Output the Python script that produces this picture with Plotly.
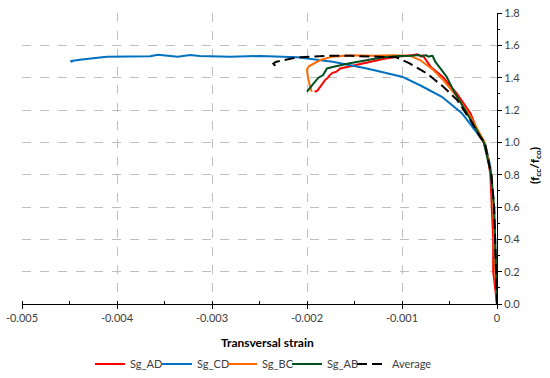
import plotly.graph_objects as go

# Sg_AD (red)
ad_x = [0, -0.00004, -0.00004, -0.000055, -0.00007, -0.00010, -0.00014, -0.00018, -0.00028,
        -0.00042, -0.00057, -0.00070, -0.00076, -0.00078, -0.00080, -0.00084, -0.00088,
        -0.00095, -0.00106, -0.0012, -0.00137, -0.00155, -0.00165, -0.00169, -0.00173,
        -0.00176, -0.00178, -0.00181, -0.00184, -0.00186, -0.00189, -0.00192]
ad_y = [0, 0.2, 0.4, 0.6, 0.8, 0.92, 1.0, 1.035, 1.18,
        1.30, 1.405, 1.468, 1.525, 1.538, 1.53, 1.545, 1.54,
        1.535, 1.53, 1.515, 1.493, 1.472, 1.457, 1.437, 1.43,
        1.416, 1.40, 1.385, 1.36, 1.344, 1.32, 1.313]

# Sg_CD (blue)
cd_x = [0, -0.00001, -0.00002, -0.00004, -0.00007, -0.000126, -0.00023, -0.00037, -0.00058,
        -0.0008, -0.001, -0.00137, -0.00173, -0.0021, -0.00249, -0.00281, -0.00313,
        -0.00323, -0.00336, -0.0035, -0.00357, -0.00365, -0.00387, -0.00411, -0.00439,
        -0.00448, -0.00447]
cd_y = [0, 0.2, 0.4, 0.6, 0.85, 0.994, 1.076, 1.18, 1.282,
        1.35, 1.406, 1.457, 1.499, 1.527, 1.534, 1.529, 1.534,
        1.54, 1.529, 1.538, 1.542, 1.532, 1.532, 1.529, 1.511,
        1.503, 1.494]

# Sg_BC (orange)
bc_x = [0, -0.00002, -0.00003, -0.00004, -0.00006, -0.00013, -0.00028, -0.00042, -0.000565,
        -0.00067, -0.00081, -0.00092, -0.0011, -0.0013, -0.00155, -0.00173, -0.00186,
        -0.00193, -0.00198, -0.002, -0.00199, -0.00197, -0.00195]
bc_y = [0, 0.2, 0.4, 0.6, 0.8, 1.0, 1.159, 1.282, 1.385,
        1.447, 1.509, 1.536, 1.538, 1.535, 1.538, 1.53, 1.509,
        1.489, 1.47, 1.45, 1.40, 1.35, 1.313]

# Sg_AB (green)
ab_x = [0, -0.00001, -0.00002, -0.00003, -0.00006, -0.00014, -0.000214, -0.000355, -0.00046,
        -0.00053, -0.0006, -0.00065, -0.000677, -0.00069, -0.00072, -0.00075, -0.00078,
        -0.00082, -0.0009, -0.00102, -0.0012, -0.00137, -0.00155, -0.00172, -0.00179,
        -0.00183, -0.00188, -0.00193, -0.002]
ab_y = [0, 0.2, 0.4, 0.6, 0.8, 1.0, 1.076, 1.22, 1.323,
        1.406, 1.457, 1.499, 1.534, 1.535, 1.53, 1.54, 1.532,
        1.54, 1.535, 1.534, 1.526, 1.509, 1.489, 1.468, 1.457,
        1.416, 1.40, 1.365, 1.313]

# Average (black dashed)
av_x = [0, -0.00001, -0.00002, -0.00003, -0.00006, -0.00013, -0.00018, -0.00028, -0.00042,
        -0.000565, -0.00074, -0.00092, -0.00106, -0.0013, -0.00155, -0.00173, -0.00207,
        -0.00215, -0.00233, -0.002354, -0.00232]
av_y = [0, 0.2, 0.4, 0.6, 0.8, 1.0, 1.035, 1.138, 1.262,
        1.344, 1.427, 1.489, 1.526, 1.532, 1.535, 1.536, 1.527,
        1.52, 1.497, 1.487, 1.464]

x_ticks = [-0.005, -0.004, -0.003, -0.002, -0.001, 0]
x_labels = ["-0.005", "-0.004", "-0.003", "-0.002", "-0.001", "0"]
y_ticks = [0.0, 0.2, 0.4, 0.6, 0.8, 1.0, 1.2, 1.4, 1.6, 1.8]
y_labels = ["0.0", "0.2", "0.4", "0.6", "0.8", "1.0", "1.2", "1.4", "1.6", "1.8"]

FONT = "Lato"
TXT = "#404040"

fig = go.Figure()
series = [
    ("Sg_AD", ad_x, ad_y, "#FF0000", "solid"),
    ("Sg_CD", cd_x, cd_y, "#0070C0", "solid"),
    ("Sg_BC", bc_x, bc_y, "#FF6A00", "solid"),
    ("Sg_AB", ab_x, ab_y, "#00501E", "solid"),
    ("Average", av_x, av_y, "#000000", "10px,5px"),
]
legend_ids = ["legend", "legend2", "legend3", "legend4", "legend5"]
legend_x = [0.1636, 0.2855, 0.4036, 0.5218, 0.64]
for (name, xs, ys, col, dash), lg in zip(series, legend_ids):
    fig.add_trace(go.Scatter(x=xs, y=ys, name=name, mode="lines", legend=lg,
                             line=dict(color=col, width=2, dash=dash)))

legends = {}
for lg, lx in zip(legend_ids, legend_x):
    legends[lg] = dict(orientation="h", xref="container", yref="container",
                       x=lx, xanchor="left", y=0.037, yanchor="middle",
                       font=dict(family=FONT, size=11, color=TXT),
                       bgcolor="rgba(0,0,0,0)", itemwidth=30)

grid = dict(showgrid=True, gridcolor="#BFBFBF", griddash="dash", gridwidth=1)
fig.update_layout(
    width=550, height=378,
    margin=dict(l=22, r=53, t=13, b=74),
    plot_bgcolor="white", paper_bgcolor="white",
    font=dict(family=FONT, size=11, color=TXT),
    xaxis=dict(range=[-0.005, 0], tickvals=x_ticks, ticktext=x_labels,
               showline=True, linecolor="#000000", linewidth=1.3,
               ticks="outside", ticklen=4, tickcolor="#000000", automargin=False,
               minor=dict(dtick=0.0005, ticks="inside", ticklen=3, tickcolor="#000000",
                          showgrid=False),
               zeroline=False, **grid),
    yaxis=dict(range=[0, 1.8], tickvals=y_ticks, ticktext=y_labels, side="right",
               showline=True, linecolor="#000000", linewidth=1.3,
               ticks="outside", ticklen=4, tickcolor="#000000", automargin=False,
               minor=dict(dtick=0.1, ticks="outside", ticklen=2, tickcolor="#000000",
                          showgrid=False),
               zeroline=False, **grid),
    xaxis2=dict(range=[-0.005, 0], overlaying="x", matches="x", anchor="y",
                tickvals=x_ticks, showticklabels=False, ticks="inside", ticklen=4,
                tickcolor="#000000", showgrid=False, zeroline=False, showline=False,
                automargin=False),
    yaxis2=dict(range=[0, 1.8], overlaying="y", matches="y", anchor="x", side="right",
                tickvals=y_ticks, showticklabels=False, ticks="inside", ticklen=4,
                tickcolor="#000000", showgrid=False, zeroline=False, showline=False,
                automargin=False),
    showlegend=True,
    annotations=[
        dict(text="<b>Transversal strain</b>", xref="paper", yref="paper",
             x=0.516, y=-0.131, xanchor="center", yanchor="middle", showarrow=False,
             font=dict(family=FONT, size=12, color="#000000")),
        dict(text="<b>(f<sub>cc</sub>/f<sub>co</sub>)</b>", xref="paper", yref="paper",
             x=1.08, y=0.474, xanchor="center", yanchor="middle", showarrow=False,
             textangle=-90, font=dict(family=FONT, size=12, color="#000000")),
    ],
    **legends,
)
fig.write_html("out.html", config={"displayModeBar": False},
               post_script="document.body.style.margin='0px';")
